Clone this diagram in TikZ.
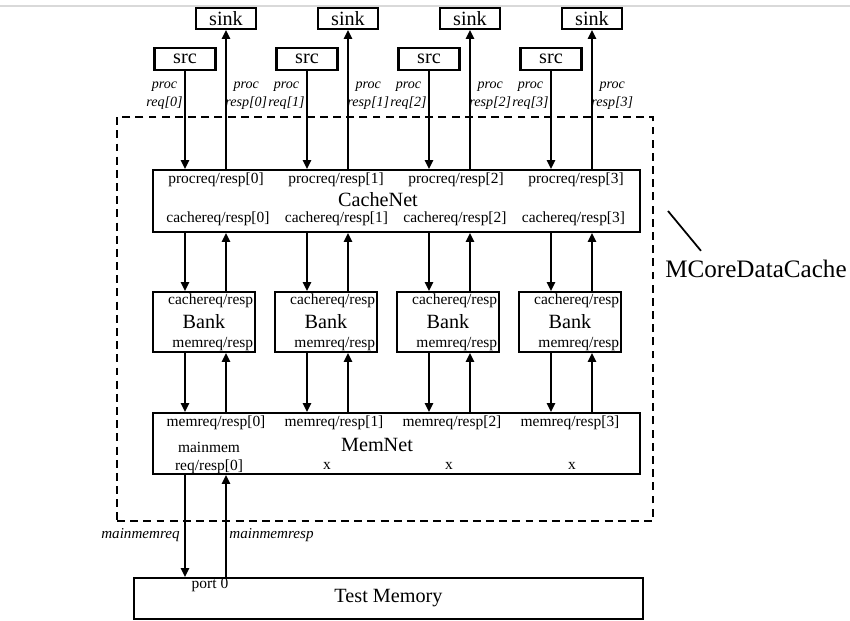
\documentclass[tikz,border=0pt]{standalone}
\usepackage{fontspec}
\setmainfont{Liberation Serif}
\usetikzlibrary{arrows.meta}

\begin{document}
\begin{tikzpicture}[
  x=0.02cm, y=-0.02cm,
  box/.style={draw, line width=1.2pt, inner sep=0pt, font=\fontsize{11.5}{13}\selectfont},
  boxname/.style={inner sep=0pt, font=\fontsize{11.5}{13}\selectfont},
  port/.style={inner sep=0pt, font=\fontsize{8.8}{10.3}\selectfont, align=center},
  sig/.style={inner sep=0pt, font=\fontsize{8.6}{10.3}\selectfont\itshape, align=center},
  procsig/.style={sig, font=\fontsize{8}{10.3}\selectfont\itshape},
  group/.style={draw, line width=1.1pt, dash pattern=on 4.5pt off 3pt},
  wire/.style={line width=1pt, -{Triangle[length=5pt,width=4.6pt]}}
]
\useasboundingbox (0,0) rectangle (850,620);
\draw[gray!30, line width=0.6pt] (0,6) -- (850,6);

\node[group, minimum width=10.72cm, minimum height=8.08cm] (mcore) at (385,319) {};
\node[inner sep=0pt, font=\fontsize{14.3}{16}\selectfont] (mcorename) at (756,269) {MCoreDataCache};
\coordinate (tick) at (668,211);
\draw[line width=1pt] (tick) -- ([shift={(36,-9)}]mcorename.north west);

\node[box, minimum width=9.74cm, minimum height=1.24cm] (cachenet) at (396.5,201) {};
\node[boxname] (cachenetname) at (378,200) {CacheNet};
\node[box, minimum width=9.74cm, minimum height=1.22cm] (memnet) at (396.5,443.5) {};
\node[boxname] (memnetname) at (377,445) {MemNet};
\node[box, minimum width=10.18cm, minimum height=0.82cm] (testmem) at (388.5,598.5) {Test Memory};

\node[port] (mainport) at (209,458) {mainmem\\req/resp[0]};
\node[port] (nc1) at (327,466) {x};
\node[port] (nc2) at (449,466) {x};
\node[port] (nc3) at (572,466) {x};
\node[port] (port0) at (210,585) {port 0};

\foreach \i in {0,...,3} {
  \node[box, minimum width=1.2cm, minimum height=0.42cm] (sink\i) at (226+122*\i,18.5) {sink};
  \node[box, minimum width=1.22cm, minimum height=0.44cm] (src\i) at (185+122*\i,59) {src};
  \node[box, minimum width=2.04cm, minimum height=1.2cm] (bank\i) at (204+122*\i,322) {Bank};
  \node[port, anchor=north east] (bankup\i) at ([shift={(-2.5,2.5)}]bank\i.north east) {cachereq/resp};
  \node[port, anchor=south east] (bankdn\i) at ([shift={(-2.5,-1.5)}]bank\i.south east) {memreq/resp};
  \node[port] (cnproc\i) at (216+120*\i,180) {procreq/resp[\i]};
  \node[port] (cncache\i) at (218+118.5*\i,219) {cachereq/resp[\i]};
  \node[port] (mnmem\i) at (216+118*\i,423) {memreq/resp[\i]};
  \node[procsig, anchor=east] (req\i) at (183+122*\i,96) {proc\\req[\i]};
  \node[procsig, anchor=west] (resp\i) at (225+122*\i,96) {proc\\resp[\i]};
  \draw[wire] (src\i.south) -- (src\i.south |- cachenet.north);
  \draw[wire] (cachenet.north -| sink\i) -- (sink\i.south);
  \draw[wire] (cachenet.south -| src\i) -- (bank\i.north -| src\i);
  \draw[wire] (bank\i.north -| sink\i) -- (cachenet.south -| sink\i);
  \draw[wire] (bank\i.south -| src\i) -- (memnet.north -| src\i);
  \draw[wire] (memnet.north -| sink\i) -- (bank\i.south -| sink\i);
}

\draw[wire] (memnet.south -| src0) -- (testmem.north -| src0);
\draw[wire] (testmem.north -| sink0) -- (memnet.south -| sink0);
\node[sig, anchor=east] (mainreq) at (180,535) {mainmemreq};
\node[sig, anchor=west] (mainresp) at (229,535) {mainmemresp};

\end{tikzpicture}
\end{document}
